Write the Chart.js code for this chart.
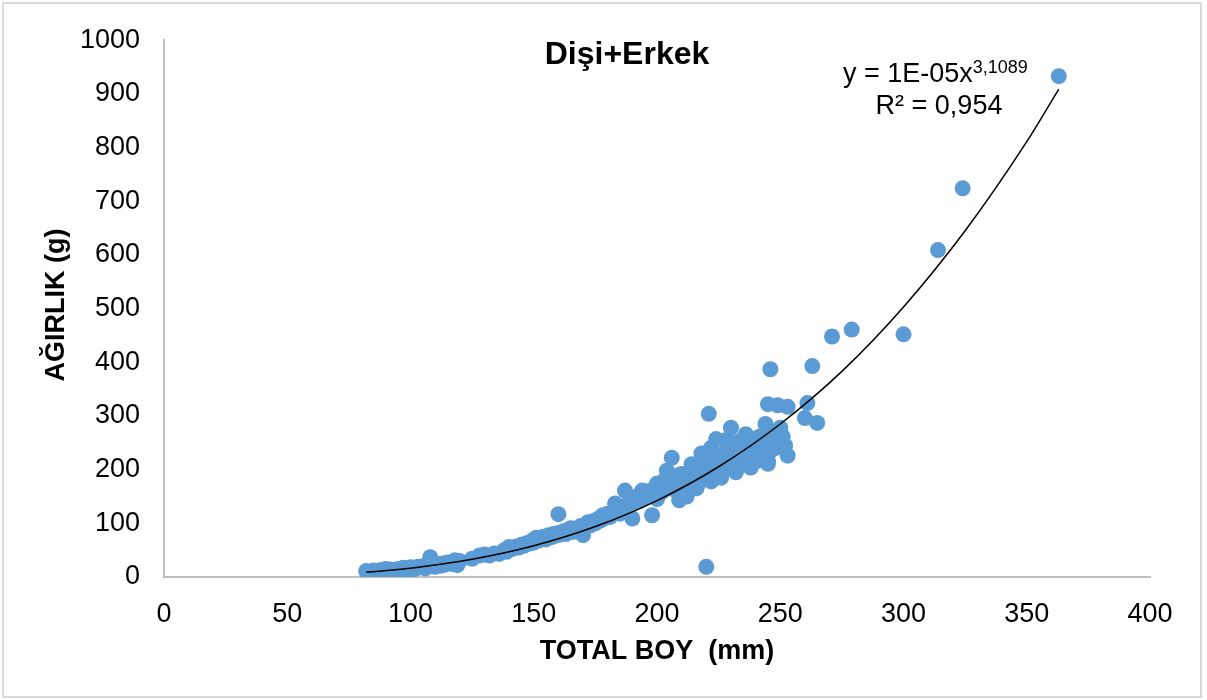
<!DOCTYPE html>
<html>
<head>
<meta charset="utf-8">
<script src="https://cdn.jsdelivr.net/npm/chart.js@4.4.1/dist/chart.umd.min.js"></script>
<style>
    html, body { margin: 0; padding: 0; background: #fff; }
    #wrap { position: relative; width: 1207px; height: 700px; }
</style>
</head>
<body>
<div id="wrap"><canvas id="chart" width="1207" height="700"></canvas></div>
<script>
// TOTAL BOY (mm) / AĞIRLIK (g) readings
const lengths = [
    82, 84, 85, 86, 88, 89, 90, 91, 92, 93, 94, 95, 96, 97, 98, 99, 100, 100,
    101, 102, 103, 104, 105, 106, 107, 108, 108, 109, 110, 111, 112, 113, 114, 115, 116, 117, 118, 119, 119, 120,
    125, 128, 130, 132, 134, 136, 138, 139, 140, 141, 142, 143, 144, 145, 146, 147, 148, 149, 150, 150,
    151, 152, 153, 154, 155, 156, 157, 158, 159, 160, 160, 161, 162, 163, 164, 165, 166, 167, 168, 169,
    170, 170, 171, 172, 173, 174, 175, 176, 177, 178, 179, 180, 181, 182, 183, 184, 185, 186, 187, 187,
    188, 189, 190, 190, 191, 192, 193, 194, 195, 196, 197, 198, 198, 199, 200, 200, 201, 202,
    203, 204, 205, 206, 207, 208, 209, 209, 210, 211, 212, 213, 214, 215, 216, 217, 218, 219, 220, 220, 220,
    221, 221, 222, 223, 224, 224, 225, 226, 227, 228, 229, 230, 230, 231, 232, 233, 234, 235, 236, 237, 238,
    239, 240, 241, 242, 243, 244, 245, 245, 246, 247, 248, 249, 250, 250, 252, 253,
    212, 214, 216, 218, 222, 226, 228, 232, 236, 238, 240, 242, 244, 246, 248, 251,
    245, 246, 249, 253, 260, 261, 263, 265, 271, 279, 300, 314, 324, 363
];
const weights = [
    11, 9, 12, 10, 13, 11, 15, 12, 14, 10, 8, 15, 13, 17, 14, 16, 18, 13,
    17, 15, 19, 18, 20, 16, 22, 37, 20, 23, 19, 24, 21, 25, 23, 27, 26, 24, 31, 29, 22, 30,
    34, 40, 42, 40, 44, 43, 50, 47, 56, 52, 54, 57, 55, 60, 58, 63, 62, 66, 70, 64,
    73, 68, 72, 75, 70, 78, 74, 80, 77, 117, 82, 79, 85, 80, 88, 91, 84, 90, 86, 95,
    78, 92, 98, 102, 96, 104, 100, 108, 105, 115, 110, 118, 112, 120, 137, 125, 118, 130, 161, 128,
    135, 140, 109, 138, 145, 150, 142, 161, 148, 155, 160, 115, 152, 165, 174, 145, 170, 158,
    180, 198, 165, 222, 175, 160, 143, 190, 192, 170, 185, 165, 195, 180, 200, 175, 210, 190, 222, 19, 185,
    304, 200, 241, 205, 257, 190, 215, 185, 230, 210, 240, 278, 204, 225, 250, 215, 254, 235, 266, 220, 204,
    245, 230, 260, 240, 225, 285, 217, 211, 250, 270, 240, 260, 278, 254, 245, 226,
    150, 210, 165, 230, 178, 200, 255, 195, 210, 250, 215, 262, 240, 235, 270, 262,
    322, 387, 320, 317, 296, 324, 393, 287, 448, 461, 452, 609, 724, 933
];

// power trendline
const trendX = [82, 100, 125, 150, 175, 200, 225, 250, 275, 300, 325, 350, 363];
const trendY = [8.9, 16.5, 33, 58.2, 94, 142.4, 205.4, 285, 383, 503, 645, 811, 909];

const xTicks = [0, 50, 100, 150, 200, 250, 300, 350, 400];
const yTicks = [0, 100, 200, 300, 400, 500, 600, 700, 800, 900, 1000];

const points = lengths.map((x, i) => ({ x: x, y: weights[i] }));
const trend = trendX.map((x, i) => ({ x: x, y: trendY[i] }));

const font = "'Liberation Sans', Arial, sans-serif";

// titles, equation and outer frame
const textPlugin = {
    id: 'texts',
    afterDraw(c) {
        const ctx = c.ctx;
        ctx.save();
        ctx.strokeStyle = '#D9D9D9';
        ctx.lineWidth = 2;
        ctx.strokeRect(3, 3, 1198, 694);

        ctx.fillStyle = '#000';
        ctx.textBaseline = 'middle';
        ctx.textAlign = 'center';
        ctx.font = 'bold 32px ' + font;
        ctx.fillText('Dişi+Erkek', 627, 55);

        ctx.font = 'bold 27px ' + font;
        ctx.fillText('TOTAL BOY  (mm)', 657, 652);

        ctx.save();
        ctx.translate(57, 305);
        ctx.rotate(-Math.PI / 2);
        ctx.fillText('AĞIRLIK (g)', 0, 0);
        ctx.restore();

        // equation
        ctx.textAlign = 'left';
        ctx.font = '27px ' + font;
        const base = 'y = 1E-05x';
        ctx.fillText(base, 843, 75);
        const w = ctx.measureText(base).width;
        ctx.font = '18px ' + font;
        ctx.fillText('3,1089', 843 + w, 68);
        ctx.textAlign = 'center';
        ctx.font = '27px ' + font;
        ctx.fillText('R² = 0,954', 939, 107);
        ctx.restore();
    }
};

new Chart(document.querySelector('#chart').getContext('2d'), {
    type: 'scatter',
    data: {
        datasets: [
            {
                data: trend,
                showLine: true,
                borderColor: '#000',
                borderWidth: 1.5,
                pointRadius: 0,
                cubicInterpolationMode: 'monotone',
                fill: false
            },
            {
                data: points,
                backgroundColor: '#5B9BD5',
                borderWidth: 0,
                pointRadius: 8
            }
        ]
    },
    options: {
        responsive: false,
        animation: false,
        layout: { padding: { top: 37, right: 57, left: 0, bottom: 0 } },
        plugins: {
            legend: { display: false },
            tooltip: { enabled: false },
            title: { display: false }
        },
        scales: {
            x: {
                type: 'linear',
                min: 0,
                max: 400,
                afterBuildTicks: s => { s.ticks = xTicks.map(v => ({ value: v })); },
                afterFit: s => { s.height = 123; },
                grid: { display: false, drawTicks: false },
                border: { color: '#BFBFBF', width: 2 },
                ticks: { color: '#000', padding: 21, font: { family: font, size: 27 }, maxRotation: 0,
                    callback: v => String(v) }
            },
            y: {
                type: 'linear',
                min: 0,
                max: 1000,
                afterBuildTicks: s => { s.ticks = yTicks.map(v => ({ value: v })); },
                afterFit: s => { s.width = 164; },
                grid: { display: false, drawTicks: false },
                border: { color: '#BFBFBF', width: 2 },
                ticks: { color: '#000', padding: 24, font: { family: font, size: 27 },
                    callback: v => String(v) }
            }
        }
    },
    plugins: [textPlugin]
});
</script>
</body>
</html>
